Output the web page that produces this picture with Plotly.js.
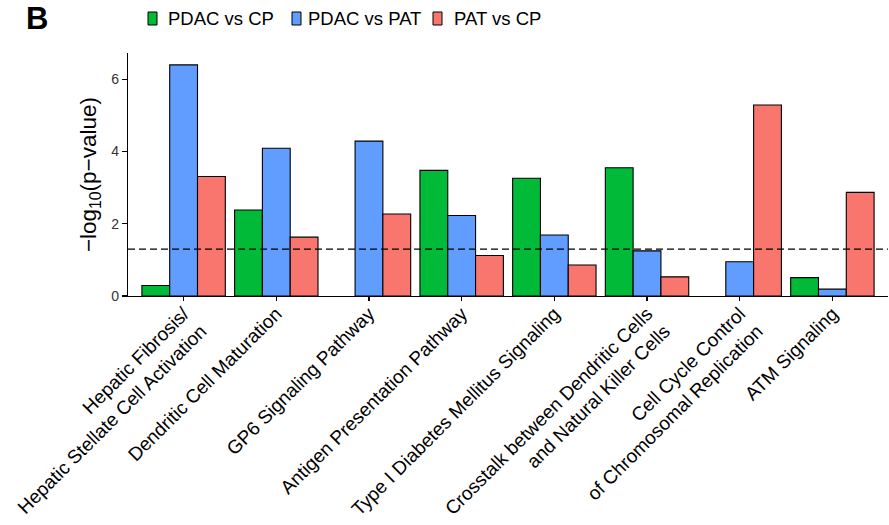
<!DOCTYPE html>
<html>
<head>
<meta charset="utf-8">
<script src="https://cdn.plot.ly/plotly-3.0.1.min.js"></script>
<style>html,body{margin:0;padding:0;background:#fff;}#chart{width:889px;height:525px;}</style>
</head>
<body>
<div id="chart"></div>
<script>
const categories = [
  "Hepatic Fibrosis/<br>Hepatic Stellate Cell Activation",
  "Dendritic Cell Maturation",
  "GP6 Signaling Pathway",
  "Antigen Presentation Pathway",
  "Type I Diabetes Mellitus Signaling",
  "Crosstalk between Dendritic Cells<br>and Natural Killer Cells",
  "Cell Cycle Control<br>of Chromosomal Replication",
  "ATM Signaling"
];
const seriesNames = ["PDAC vs CP", "PDAC vs PAT", "PAT vs CP"];
const pdacVsCp  = [0.29, 2.38, null, 3.48, 3.26, 3.55, null, 0.51];
const pdacVsPat = [6.40, 4.09, 4.29, 2.23, 1.69, 1.25, 0.95, 0.19];
const patVsCp   = [3.31, 1.63, 2.27, 1.12, 0.86, 0.53, 5.29, 2.87];
const threshold = 1.3;
const yTicks = [0, 2, 4, 6];

const colors = ["#00BA38", "#619CFF", "#F8766D"];
const seriesValues = [pdacVsCp, pdacVsPat, patVsCp];
const FONT = "Liberation Sans, Arial, sans-serif";

// plot area in pixels (for placing the hand-drawn legend / panel letter)
const W = 889, H = 525, L = 128, R = 1, T = 53, B = 229;
const pw = W - L - R, ph = H - T - B;
const px = x => (x - L) / pw;
const py = y => (H - B - y) / ph;

const traces = seriesValues.map((vals, i) => ({
  type: "bar",
  name: seriesNames[i],
  x: categories,
  y: vals,
  marker: {color: colors[i], line: {color: "#000", width: 1.1}},
  showlegend: false,
  hoverinfo: "x+y+name"
}));

// legend keys and labels
const keyLeft = [148, 292, 433];
const textLeft = [166, 306, 452];
const legendShapes = seriesNames.map((n, i) => ({
  type: "rect", xref: "paper", yref: "paper",
  x0: px(keyLeft[i]), x1: px(keyLeft[i] + 9), y0: py(25), y1: py(12),
  fillcolor: colors[i], line: {color: "#000", width: 1}
}));
const legendAnns = seriesNames.map((n, i) => ({
  text: n, xref: "paper", yref: "paper", x: px(textLeft[i]), y: py(18.5),
  xanchor: "left", yanchor: "middle", showarrow: false,
  font: {size: 18.5, family: FONT, color: "#000"}
}));

const layout = {
  width: W, height: H,
  margin: {l: L, r: R, t: T, b: B, pad: 0},
  paper_bgcolor: "#fff", plot_bgcolor: "#fff",
  font: {family: FONT, color: "#000"},
  barmode: "group", bargap: 0.1, bargroupgap: 0,
  showlegend: false,
  xaxis: {
    type: "category", range: [-0.6, 7.6],
    showline: true, linecolor: "#000", linewidth: 1.2,
    ticks: "outside", ticklen: 4, tickcolor: "#000", tickwidth: 1.2,
    tickangle: -45, tickfont: {size: 19, family: FONT, color: "#000"},
    ticklabelstandoff: -6,
    showgrid: false, zeroline: false, fixedrange: true, automargin: false
  },
  yaxis: {
    range: [0, 6.73], tickvals: yTicks, ticktext: yTicks.map(String),
    showline: true, linecolor: "#000", linewidth: 1.2,
    ticks: "outside", ticklen: 5, tickcolor: "#000", tickwidth: 1.2,
    tickfont: {size: 14, family: FONT, color: "#333"},
    showgrid: false, zeroline: false, fixedrange: true, automargin: false,
    title: {text: "\u2212log<sub>10</sub>(p\u2212value)", font: {size: 22.5, family: FONT, color: "#000"}, standoff: 8}
  },
  shapes: [{
    type: "line", xref: "paper", x0: 0, x1: 1, yref: "y", y0: threshold, y1: threshold,
    line: {color: "#000", width: 1.3, dash: "7px,4px"}
  }].concat(legendShapes),
  annotations: [{
    text: "<b>B</b>", xref: "paper", yref: "paper", x: px(24), y: py(18.5),
    xanchor: "left", yanchor: "middle", showarrow: false,
    font: {size: 31, family: FONT, color: "#000"}
  }].concat(legendAnns)
};

Plotly.newPlot("chart", traces, layout, {displayModeBar: false, staticPlot: true});
</script>
</body>
</html>
